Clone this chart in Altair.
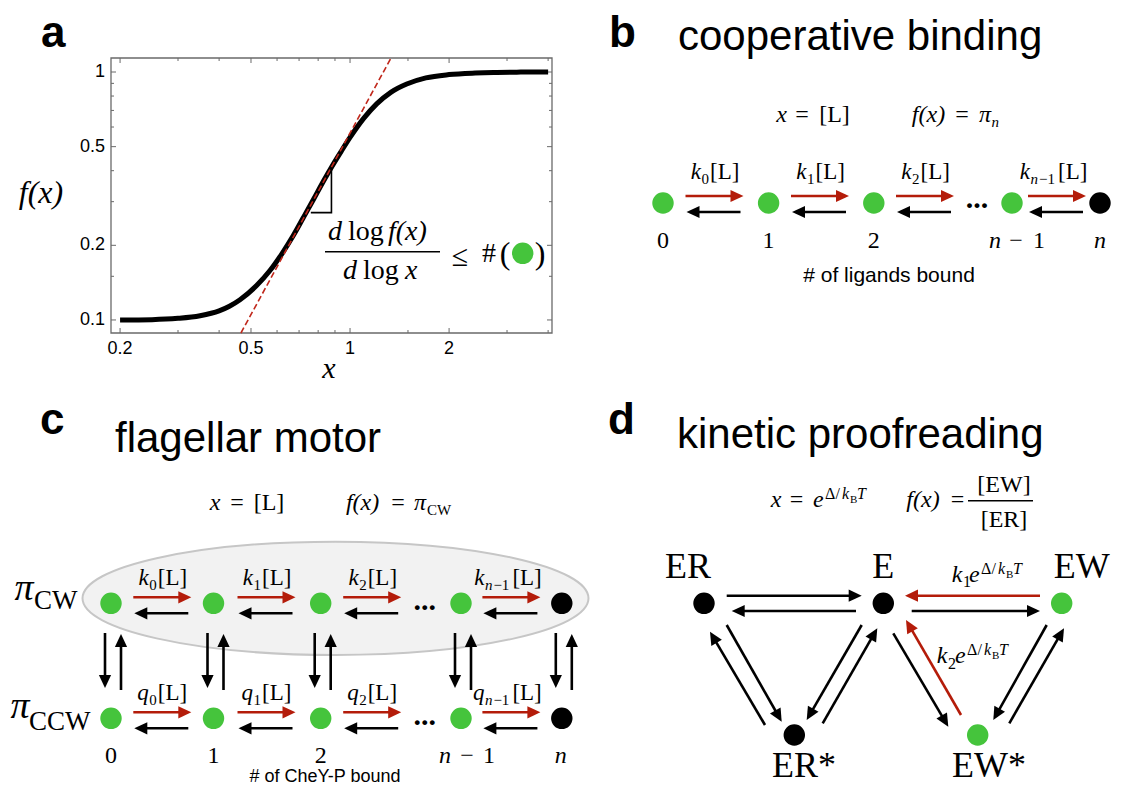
import math
import altair as alt
import pandas as pd

# page geometry (layout numbers below are in reference-page pixels)
W, H, M = 1105, 779, 8
SERIF = "Liberation Serif"
SANS = "Liberation Sans"
GREEN = "#45c43c"
RED = "#b41c0a"
BLACK = "#000000"

# ---------------- panel a : data ----------------
CURVE_X = [0.2, 0.25, 0.3, 0.35, 0.4, 0.43, 0.463, 0.52, 0.571, 0.62, 0.673, 0.72, 0.774, 0.83,
           0.88, 0.94, 1.0, 1.1, 1.205, 1.33, 1.487, 1.7, 2.0, 2.4, 2.73, 3.3, 4.0]
CURVE_Y = [0.1000, 0.1003, 0.1015, 0.1040, 0.1088, 0.1136, 0.1207, 0.1376, 0.1582, 0.1845,
           0.2196, 0.2577, 0.3062, 0.3626, 0.4149, 0.4786, 0.5445, 0.6499, 0.7438, 0.8282,
           0.8943, 0.9468, 0.9762, 0.9908, 0.9963, 0.9991, 1.0]
TANGENT_X = [0.466, 1.332]
TANGENT_Y = [0.0886, 1.139]
SLOPE_X = [0.76, 0.878, 0.878]
SLOPE_Y = [0.271, 0.271, 0.403]
X_MAJOR = [0.2, 0.5, 1, 2]
X_LABELS = ["0.2", "0.5", "1", "2"]
X_MINOR = [0.3, 0.4, 0.6, 0.7, 0.8, 0.9, 1.5, 3, 4]
Y_MAJOR = [0.1, 0.2, 0.5, 1]
Y_LABELS = ["0.1", "0.2", "0.5", "1"]
Y_MINOR = [0.15, 0.3, 0.4, 0.6, 0.7, 0.8, 0.9]
X_DOMAIN = [0.1877, 4.11]
Y_DOMAIN = [0.0886, 1.139]

# frame of panel a (page px)
AL, AR, AT, AB = 111, 552, 58, 333

XS = alt.Scale(type="log", domain=X_DOMAIN, range=[AL - M, AR - M], nice=False)
YS = alt.Scale(type="log", domain=Y_DOMAIN, range=[AB - M, AT - M], nice=False)
FRAME = "#6a6a6a"

frame = alt.Chart(pd.DataFrame({"x0": [X_DOMAIN[0]], "x1": [X_DOMAIN[1]],
                                "y0": [Y_DOMAIN[0]], "y1": [Y_DOMAIN[1]]})).mark_rect(
    fillOpacity=0, stroke=FRAME, strokeWidth=1.3).encode(
    x=alt.X("x0:Q", scale=XS, axis=None), x2="x1:Q",
    y=alt.Y("y0:Q", scale=YS, axis=None), y2="y1:Q")


def xticks(vals, length):
    df = pd.DataFrame({"v": vals})
    out = []
    for y0, y1 in [(AB - M, AB - M - length), (AT - M, AT - M + length)]:
        out.append(alt.Chart(df).mark_rule(color=FRAME, strokeWidth=1).encode(
            x=alt.X("v:Q", scale=XS, axis=None), y=alt.value(y0), y2=alt.value(y1)))
    return out


def yticks(vals, length):
    df = pd.DataFrame({"v": vals})
    out = []
    for x0, x1 in [(AL - M, AL - M + length), (AR - M, AR - M - length)]:
        out.append(alt.Chart(df).mark_rule(color=FRAME, strokeWidth=1).encode(
            y=alt.Y("v:Q", scale=YS, axis=None), x=alt.value(x0), x2=alt.value(x1)))
    return out


ticks = xticks(X_MAJOR, 5) + xticks(X_MINOR, 3) + yticks(Y_MAJOR, 5) + yticks(Y_MINOR, 3)

xlab = alt.Chart(pd.DataFrame({"v": X_MAJOR, "t": X_LABELS})).mark_text(
    font=SANS, fontSize=18, align="center", baseline="alphabetic", color="black").encode(
    x=alt.X("v:Q", scale=XS, axis=None), y=alt.value(354 - M), text="t:N")
ylab = alt.Chart(pd.DataFrame({"v": Y_MAJOR, "t": Y_LABELS})).mark_text(
    font=SANS, fontSize=18, align="right", baseline="middle", color="black").encode(
    y=alt.Y("v:Q", scale=YS, axis=None), x=alt.value(105 - M), text="t:N")

curve = alt.Chart(pd.DataFrame({"x": CURVE_X, "y": CURVE_Y})).mark_line(
    color="black", strokeWidth=5, interpolate="monotone").encode(
    x=alt.X("x:Q", scale=XS, axis=None), y=alt.Y("y:Q", scale=YS, axis=None))
tangent = alt.Chart(pd.DataFrame({"x": TANGENT_X, "y": TANGENT_Y})).mark_line(
    color="#c0271b", strokeWidth=1.6, strokeDash=[6, 3]).encode(
    x=alt.X("x:Q", scale=XS, axis=None), y=alt.Y("y:Q", scale=YS, axis=None))
slope = alt.Chart(pd.DataFrame({"x": SLOPE_X, "y": SLOPE_Y, "o": [0, 1, 2]})).mark_line(
    color="black", strokeWidth=1.6).encode(
    x=alt.X("x:Q", scale=XS, axis=None), y=alt.Y("y:Q", scale=YS, axis=None), order="o:Q")

panel_a = alt.layer(frame, *ticks, curve, tangent, slope, xlab, ylab)

# ---------------- diagrams: layout ----------------
DX = alt.Scale(domain=[M, W + M], zero=False, nice=False)
DY = alt.Scale(domain=[M, H + M], zero=False, nice=False, reverse=True)

# panel b
B_STATES = ["0", "1", "2", "n-1", "n"]
B_NODE_X = [663, 768.6, 873.8, 1012, 1100]
B_NODE_COL = [GREEN, GREEN, GREEN, GREEN, BLACK]
B_Y = 203
B_MIDS = [714.5, 820, 925, 1057]
RATE_SUBS = ["0", "1", "2", "n-1"]

# panel c
C_NODE_X = [111, 213.5, 320.7, 461, 561.8]
C_ROWS_Y = [603.3, 718.3]
C_MIDS = [162.3, 266.5, 372.2, 511.4]

# panel d
D_NODES = ["ER", "E", "EW", "ER*", "EW*"]
D_NODE_X = [704, 883.3, 1061.7, 794.3, 977.7]
D_NODE_Y = [603.3, 603.3, 603.3, 735, 735]
D_NODE_COL = [BLACK, BLACK, GREEN, BLACK, GREEN]
D_ARROWS = [  # x0, y0, x1(tip), y1(tip), colour
    (726.7, 595.7, 861.7, 595.7, BLACK),
    (856.0, 611.0, 731.7, 611.0, BLACK),
    (1040.0, 595.7, 905.0, 595.7, RED),
    (911.7, 611.0, 1040.0, 611.0, BLACK),
    (726.7, 625.0, 781.7, 721.7, BLACK),
    (765.0, 725.0, 710.0, 631.7, BLACK),
    (861.7, 625.0, 806.7, 720.0, BLACK),
    (822.7, 723.3, 877.3, 628.3, BLACK),
    (893.3, 633.3, 948.3, 726.7, BLACK),
    (961.0, 715.0, 906.0, 620.0, RED),
    (1046.7, 625.0, 993.3, 720.0, BLACK),
    (1009.3, 723.3, 1064.0, 628.3, BLACK),
]

ARROWS = []


def arrow(x0, y0, x1, y1, col):
    dx, dy = x1 - x0, y1 - y0
    L = math.hypot(dx, dy)
    ux, uy = dx / L, dy / L
    ARROWS.append(dict(x=x0, y=y0, x2=x1 - 10 * ux, y2=y1 - 10 * uy, hx=x1, hy=y1,
                       ang=math.degrees(math.atan2(ux, -uy)) % 360, col=col))


for m in B_MIDS:
    arrow(m - 29, B_Y - 7, m + 29, B_Y - 7, RED)
    arrow(m + 26, B_Y + 9, m - 28, B_Y + 9, BLACK)
for ry in C_ROWS_Y:
    for m in C_MIDS:
        arrow(m - 29, ry - 6, m + 29, ry - 6, RED)
        arrow(m + 26, ry + 10, m - 28, ry + 10, BLACK)
for nx in C_NODE_X:
    arrow(nx - 6, 633, nx - 6, 688, BLACK)
    arrow(nx + 10, 690, nx + 10, 634, BLACK)
for a in D_ARROWS:
    arrow(*a)

NODES = []
for x, c in zip(B_NODE_X, B_NODE_COL):
    NODES.append(dict(x=x, y=B_Y, col=c))
for ry in C_ROWS_Y:
    for i, x in enumerate(C_NODE_X):
        NODES.append(dict(x=x, y=ry, col=BLACK if i == 4 else GREEN))
for x, y, c in zip(D_NODE_X, D_NODE_Y, D_NODE_COL):
    NODES.append(dict(x=x, y=y, col=c))
NODES.append(dict(x=522.7, y=253.3, col=GREEN))  # symbol inside formula of panel a

BARS = [dict(x=325, x2=440, y=251.7), dict(x=968, x2=1033, y=500.7)]

# ---------------- texts ----------------
T = []


def txt(t, x, y, s, font=SERIF, style="normal", weight="normal", align="center"):
    T.append(dict(t=t, x=x, y=y, s=s, font=font, style=style, weight=weight, align=align))


def rate(letter, sub, mid, base):
    if sub == "n-1":
        J = mid - 27
        txt(letter, J, base, 23, style="italic", align="right")
        txt("n", J + 0.5, base + 5, 15, style="italic", align="left")
        txt("\u22121", J + 9, base + 5, 15, align="left")
        txt("[L]", J + 28, base, 23, align="left")
    else:
        J = mid - 13.5
        txt(letter, J, base, 23, style="italic", align="right")
        txt(sub, J + 0.5, base + 5, 15, align="left")
        txt("[L]", J + 9, base, 23, align="left")


def expo(xl, b):
    txt("e", xl, b, 24, style="italic", align="left")
    txt("\u0394", xl + 12, b - 8, 16, align="left")
    txt("/", xl + 22.5, b - 8, 16, align="left")
    txt("k", xl + 29, b - 8, 16, style="italic", align="left")
    txt("B", xl + 37, b - 4, 11, align="left")
    txt("T", xl + 44, b - 8, 16, style="italic", align="left")


# panel letters and titles
for lab, x, y in [("a", 41, 47), ("b", 609, 47), ("c", 40, 434), ("d", 608, 434)]:
    txt(lab, x, y, 44, SANS, weight="bold", align="left")
txt("cooperative binding", 678, 50, 42, SANS, align="left")
txt("flagellar motor", 115, 452, 42, SANS, align="left")
txt("kinetic proofreading", 677, 448, 42, SANS, align="left")

# panel a annotations
txt("f(x)", 41, 203, 32, style="italic")
txt("x", 329, 378, 30, style="italic")
txt("d", 328, 240, 28, style="italic", align="left")
txt("log", 348, 240, 28, align="left")
txt("f(x)", 388, 240, 28, style="italic", align="left")
txt("d", 343, 279, 28, style="italic", align="left")
txt("log", 363, 279, 28, align="left")
txt("x", 405, 279, 28, style="italic", align="left")
txt("\u2264", 460, 266, 30)
txt("#", 489, 262, 28)
txt("(", 505, 264, 32)
txt(")", 540, 264, 32)

# panel b
txt("x", 781.5, 122, 24, style="italic")
txt("=", 802, 122, 24)
txt("[L]", 834.5, 122, 24)
txt("f(x)", 928.5, 122, 24, style="italic")
txt("=", 962, 122, 24)
txt("\u03c0", 985, 122, 24, style="italic")
txt("n", 991.5, 127, 15, style="italic", align="left")
for m, sub in zip(B_MIDS, RATE_SUBS):
    rate("k", sub, m, 179)
txt("...", 977, 208, 30, weight="bold")
for x, s in zip(B_NODE_X[:3], B_STATES[:3]):
    txt(s, x, 248, 24)
txt("n", 995, 248, 24, style="italic")
txt("\u2212", 1016, 248, 24)
txt("1", 1039, 248, 24)
txt("n", 1100, 248, 24, style="italic")
txt("# of ligands bound", 889, 282, 21, SANS)

# panel c
txt("x", 215, 510, 24, style="italic")
txt("=", 237, 510, 24)
txt("[L]", 269, 510, 24)
txt("f(x)", 362.6, 510, 24, style="italic")
txt("=", 398, 510, 24)
txt("\u03c0", 420, 510, 24, style="italic")
txt("CW", 427, 515, 15, align="left")
txt("\u03c0", 24, 600, 38, style="italic")
txt("CW", 34, 609, 27, align="left")
txt("\u03c0", 20, 718, 38, style="italic")
txt("CCW", 29, 730, 27, align="left")
for m, sub in zip(C_MIDS, RATE_SUBS):
    rate("k", sub, m, 585)
    rate("q", sub, m, 700)
txt("...", 424.8, 610, 30, weight="bold")
txt("...", 424.8, 725, 30, weight="bold")
for x, s in zip(C_NODE_X[:3], B_STATES[:3]):
    txt(s, x, 763, 24)
txt("n", 445, 763, 24, style="italic")
txt("\u2212", 467, 763, 24)
txt("1", 489, 763, 24)
txt("n", 560.7, 763, 24, style="italic")
txt("# of CheY-P bound", 325, 782, 18, SANS)

# panel d
txt("x", 776, 507, 24, style="italic")
txt("=", 796.5, 507, 24)
expo(813, 507)
txt("f(x)", 923, 507, 24, style="italic")
txt("=", 957.5, 507, 24)
txt("[EW]", 1004, 492, 24)
txt("[ER]", 1004, 527, 24)
D_LABEL_POS = [(688, 578), (883.3, 578), (1081.7, 578), (804, 777), (989, 777)]
for name, (x, y) in zip(D_NODES, D_LABEL_POS):
    txt(name, x, y, 36)
txt("k", 951.7, 582, 24, style="italic", align="left")
txt("1", 963, 587, 16, align="left")
expo(969, 582)
txt("k", 936.7, 663, 24, style="italic", align="left")
txt("2", 948, 669, 16, align="left")
expo(955, 663)

# ---------------- diagram layers ----------------
ELLIPSE = "M-1,0C-1,-0.1237,-0.5523,-0.224,0,-0.224C0.5523,-0.224,1,-0.1237,1,0C1,0.1237,0.5523,0.224,0,0.224C-0.5523,0.224,-1,0.1237,-1,0Z"
ellipse = alt.Chart(pd.DataFrame({"x": [335.5], "y": [598.3]})).mark_point(
    shape=ELLIPSE, size=(2 * 253) ** 2, filled=True, fill="#f2f2f2", stroke="#c6c6c6",
    strokeWidth=2, opacity=1, fillOpacity=1, strokeOpacity=1).encode(
    x=alt.X("x:Q", scale=DX, axis=None), y=alt.Y("y:Q", scale=DY, axis=None))

adf = pd.DataFrame(ARROWS)
shafts = alt.Chart(adf).mark_rule(strokeWidth=2.6).encode(
    x=alt.X("x:Q", scale=DX, axis=None), y=alt.Y("y:Q", scale=DY, axis=None),
    x2="x2:Q", y2="y2:Q", color=alt.Color("col:N", scale=None))
HEAD = "M0,0L0.47,1L-0.47,1Z"
heads = alt.Chart(adf).mark_point(shape=HEAD, size=(2 * 13) ** 2, filled=True, opacity=1,
                                  strokeWidth=0).encode(
    x=alt.X("hx:Q", scale=DX, axis=None), y=alt.Y("hy:Q", scale=DY, axis=None),
    angle=alt.Angle("ang:Q", scale=None), color=alt.Color("col:N", scale=None))

nodes = alt.Chart(pd.DataFrame(NODES)).mark_point(shape="circle", size=460, filled=True,
                                                  opacity=1, strokeWidth=0).encode(
    x=alt.X("x:Q", scale=DX, axis=None), y=alt.Y("y:Q", scale=DY, axis=None),
    color=alt.Color("col:N", scale=None))

bars = alt.Chart(pd.DataFrame(BARS)).mark_rule(color="black", strokeWidth=1.6).encode(
    x=alt.X("x:Q", scale=DX, axis=None), x2="x2:Q", y=alt.Y("y:Q", scale=DY, axis=None))

tdf = pd.DataFrame(T)
text_layers = []
for (font, style, weight, align), g in tdf.groupby(["font", "style", "weight", "align"]):
    text_layers.append(alt.Chart(g).mark_text(
        font=font, fontStyle=style, fontWeight=weight, align=align, baseline="alphabetic",
        color="black").encode(
        x=alt.X("x:Q", scale=DX, axis=None), y=alt.Y("y:Q", scale=DY, axis=None),
        text="t:N", size=alt.Size("s:Q", scale=None)))

diagrams = alt.layer(ellipse, shafts, heads, nodes, bars, *text_layers)

chart = alt.layer(panel_a, diagrams).resolve_scale(x="independent", y="independent").properties(
    width=W, height=H, padding=0, autosize=alt.AutoSizeParams(type="none"),
    background="white").configure_view(stroke="transparent")

chart.save("out.html", embed_options={"renderer": "svg", "actions": False})
